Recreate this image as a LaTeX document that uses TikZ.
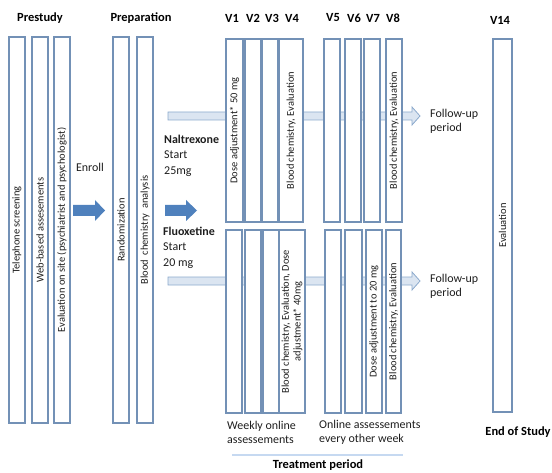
\documentclass[tikz,border=0pt]{standalone}
\usepackage{fontspec}
\setmainfont{Carlito}
\definecolor{boxc}{RGB}{115,145,182}
\definecolor{barfill}{RGB}{219,229,241}
\definecolor{barline}{RGB}{140,170,205}
\definecolor{arrowfill}{RGB}{79,129,189}
\definecolor{txt}{RGB}{30,30,30}
\definecolor{tline}{RGB}{198,217,241}
\newcommand\MkVBox[6]{%
  \pgfmathsetmacro\VBcx{(#2+#3)/2}%
  \pgfmathsetmacro\VBcy{(#4+#5)/2}%
  \pgfmathsetmacro\VBww{#3-#2}%
  \pgfmathsetmacro\VBhh{#5-#4}%
  \node[vb, minimum width=\VBhh bp, minimum height=\VBww bp, rotate=90] (#1) at (\VBcx,\VBcy) {#6};}
\begin{document}
\begin{tikzpicture}[x=1bp,y=-1bp,
  vb/.style={draw=boxc, line width=1.1bp, fill=white, inner sep=0pt, align=center,
             font=\fontsize{10.5}{12}\selectfont, text=txt},
  title/.style={font=\bfseries\fontsize{12.5}{14}\selectfont, text=black, inner sep=0pt},
  body/.style={font=\fontsize{12}{14}\selectfont, text=txt, inner sep=0pt, align=left},
  drug/.style={font=\fontsize{12}{15.5}\selectfont, text=txt, inner sep=0pt, align=left},
  bar/.style={fill=barfill, draw=barline, line width=0.8bp},
  blockarrow/.style={fill=arrowfill, draw=none}]
\useasboundingbox (0,0) rectangle (552,473);
% titles
\node[title] (tpre) at (40,18) {Prestudy};
\node[title] (tprep) at (141,18) {Preparation};
\node[title] (tv1) at (232,18) {V1};
\node[title] (tv2) at (253,18) {V2};
\node[title] (tv3) at (272,18) {V3};
\node[title] (tv4) at (292,18) {V4};
\node[title] (tv5) at (333,18) {V5};
\node[title] (tv6) at (354,18) {V6};
\node[title] (tv7) at (373,18) {V7};
\node[title] (tv8) at (393,18) {V8};
\node[title] (tv14) at (500,20) {V14};
% horizontal bars (behind visit boxes)
\draw[bar] (168,112) -- (412,112) -- (412,107) -- (420,116) -- (412,125) -- (412,120) -- (168,120) -- cycle;
\draw[bar] (168,277) -- (412,277) -- (412,272) -- (420,281) -- (412,290) -- (412,285) -- (168,285) -- cycle;
% prestudy boxes
\MkVBox{b1}{9}{25}{37}{423}{Telephone screening}
\MkVBox{b2}{32}{48}{37}{423}{Web-based assesements}
\MkVBox{b3}{54}{70}{37}{423}{Evaluation on site (psychiatrist and psychologist)}
% preparation boxes
\MkVBox{p1}{113}{129}{37}{423}{Randomization}
\MkVBox{p2}{137}{153}{37}{423}{Blood\ \ chemistry\ \ analysis}
% Naltrexone visits
\MkVBox{n1}{226}{243}{39}{222}{Dose adjustment* 50 mg}
\MkVBox{n2}{245}{261}{39}{222}{}
\MkVBox{n3}{262}{278}{39}{222}{}
\MkVBox{n4}{279}{303}{39}{222}{Blood chemistry, Evaluation}
\MkVBox{n5}{324}{340}{39}{222}{}
\MkVBox{n6}{345}{361}{39}{222}{}
\MkVBox{n7}{364}{380}{39}{222}{}
\MkVBox{n8}{386}{402}{39}{222}{Blood chemistry, Evaluation}
% Fluoxetine visits
\MkVBox{f1}{226}{242}{230}{413}{}
\MkVBox{f2}{245}{261}{230}{413}{}
\MkVBox{f3}{263}{279}{230}{413}{}
\MkVBox{f4}{279}{305}{230}{413}{Blood chemistry, Evaluation, Dose\\adjustment* 40mg}
\MkVBox{f5}{325}{341}{230}{413}{}
\MkVBox{f6}{345}{362}{230}{413}{}
\MkVBox{f7}{366}{382}{230}{413}{Dose adjustment to 20 mg}
\MkVBox{f8}{386}{401}{230}{413}{Blood chemistry, Evaluation}
% end of study
\MkVBox{v14}{493}{512}{39}{412}{Evaluation}
% enroll arrows
\fill[blockarrow] (73,205) -- (95,205) -- (95,200) -- (105,210.5) -- (95,221) -- (95,216) -- (73,216) -- cycle;
\fill[blockarrow] (165,205) -- (186,205) -- (186,200) -- (197,210.5) -- (186,221) -- (186,216) -- (165,216) -- cycle;
% texts
\node[body] (enroll) at (90,167) {Enroll};
\node[drug, anchor=west] (nal) at (164,155.5) {\textbf{Naltrexone}\\Start\\25mg};
\node[drug, anchor=west] (flu) at (163,247.5) {\textbf{Fluoxetine}\\Start\\20 mg};
\node[body, anchor=west] (fu1) at (430,121) {Follow-up\\period};
\node[body, anchor=west] (fu2) at (430,286) {Follow-up\\period};
\node[body, anchor=west] (wk) at (227,432) {Weekly online\\assessements};
\node[body, anchor=west] (ow) at (319,432) {Online assessements\\every other week};
\node[title] (eos) at (518,432) {End of Study};
\coordinate (tl1) at (232,455);
\coordinate (tl2) at (403,455);
\draw[tline, line width=1.5bp] (tl1) -- (tl2);
\node[title] (tp) at (318,465) {Treatment period};
\end{tikzpicture}
\end{document}
